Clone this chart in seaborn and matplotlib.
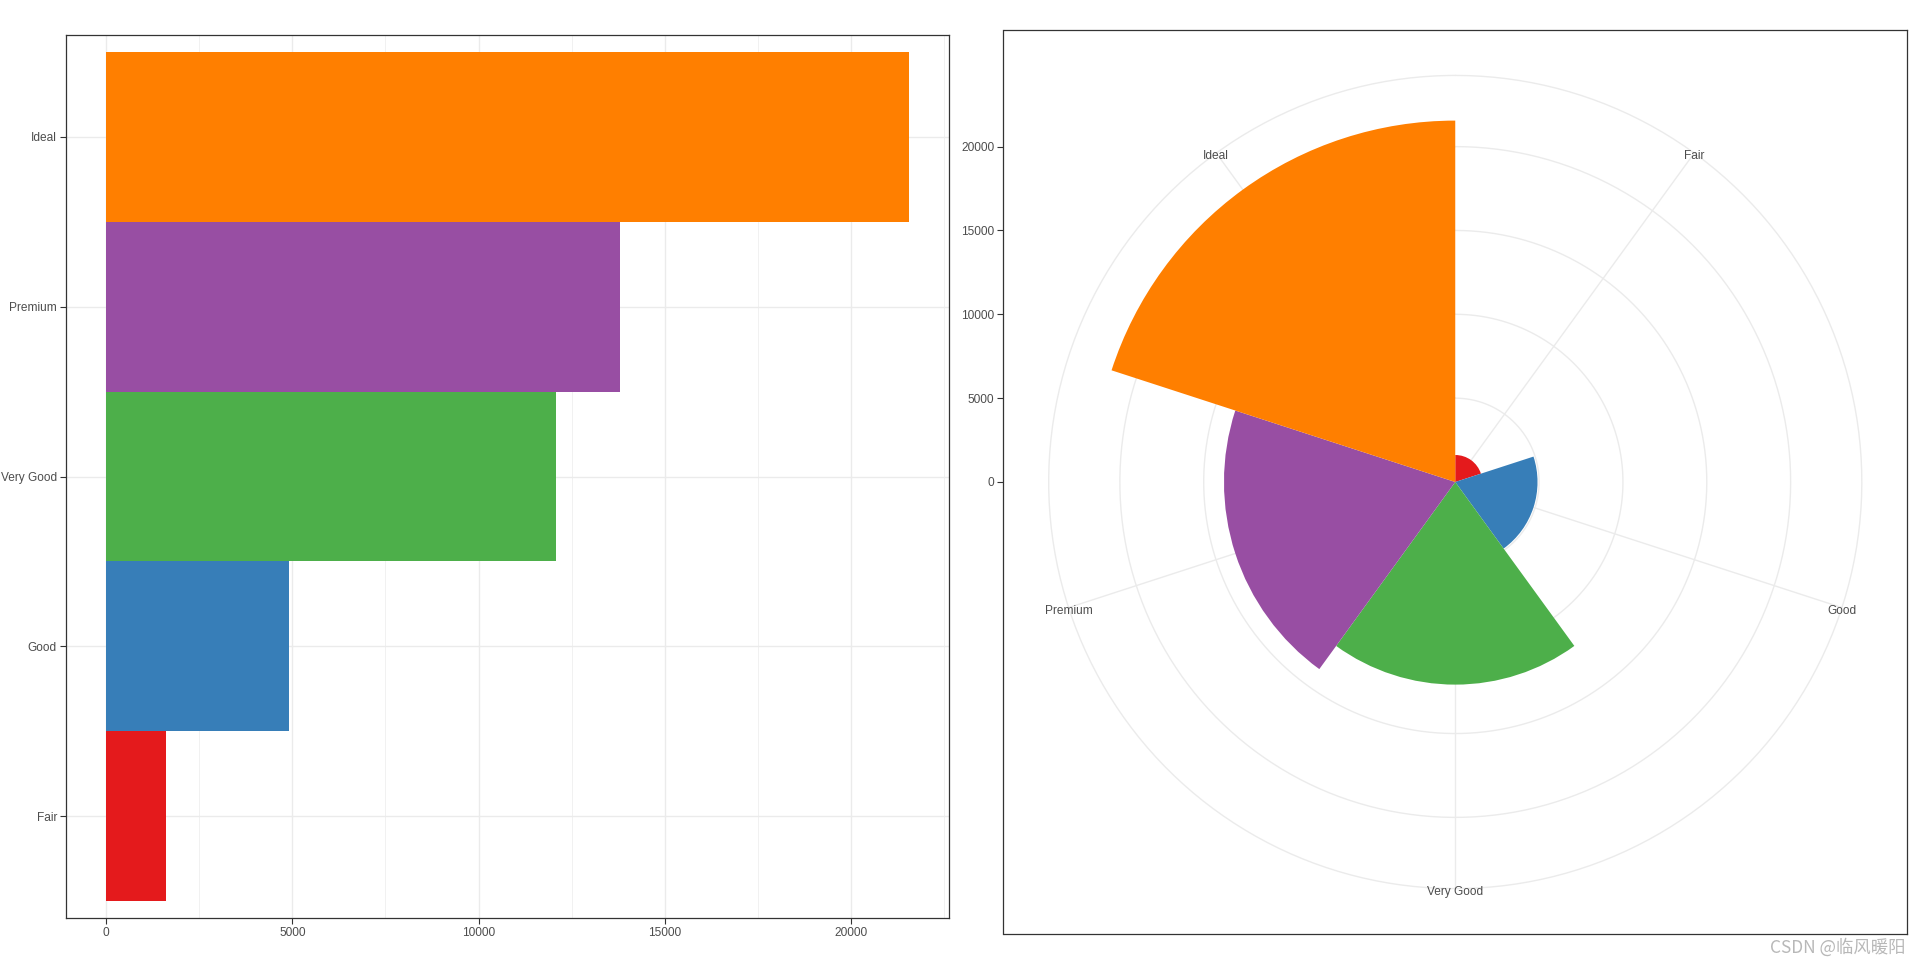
import numpy as np
import pandas as pd
import matplotlib
matplotlib.use("Agg")
import matplotlib.pyplot as plt
import matplotlib.transforms as mtransforms
import seaborn as sns

# ---- data ----
cuts = ["Fair", "Good", "Very Good", "Premium", "Ideal"]
counts = [1610, 4906, 12082, 13791, 21551]
colors = ["#E41A1C", "#377EB8", "#4DAF4A", "#984EA3", "#FF7F00"]
x_ticks = [0, 5000, 10000, 15000, 20000]
watermark = "CSDN @临风暖阳"

sns.set_theme(style="white")
plt.rcParams['font.family'] = ['Liberation Sans', 'DejaVu Sans']

W, H = 1912, 967
fig = plt.figure(figsize=(W / 100, H / 100), dpi=100)

GRID = "#EBEBEB"
BORDER = "#333333"
TXT = "#4D4D4D"
FS = 8.6

df = pd.DataFrame({"cut": cuts, "count": counts})
palette = dict(zip(cuts, colors))
order = cuts[::-1]
cmax = max(counts)

# ---------------- left: horizontal bars ----------------
ax1 = fig.add_axes([66 / W, 1 - 918 / H, 883 / W, 883 / H])
sns.barplot(data=df, y="cut", x="count", hue="cut", order=order, hue_order=cuts,
            palette=palette, width=1, dodge=False, legend=False, saturation=1,
            linewidth=0, ax=ax1, zorder=3)
ax1.set_xlim(-0.05 * cmax, 1.05 * cmax)
ax1.set_ylim(len(cuts) - 0.4, -0.6)
ax1.set_xticks(x_ticks)
ax1.set_xticklabels([str(v) for v in x_ticks])
minor = [t + 2500 for t in x_ticks]
ax1.set_xticks(minor, minor=True)
ax1.set_axisbelow(True)
ax1.grid(True, which="major", axis="both", color=GRID, linewidth=1.0, zorder=0)
ax1.grid(True, which="minor", axis="x", color=GRID, linewidth=0.5, zorder=0)
ax1.set_xlabel("")
ax1.set_ylabel("")
ax1.tick_params(which="major", direction="out", length=4, width=0.8, color=BORDER,
                labelcolor=TXT, labelsize=FS, pad=2.5, bottom=True, left=True)
ax1.tick_params(which="minor", length=0)
for s in ax1.spines.values():
    s.set_visible(True)
    s.set_color(BORDER)
    s.set_linewidth(0.9)

# ---------------- right: polar (coxcomb) ----------------
rect2 = [1003.5 / W, 1 - 933.75 / H, 903.5 / W, 903.5 / H]
R = cmax * 0.5 / 0.4          # panel half-width in data units
r45 = cmax * 0.45 / 0.4       # outer circle / label radius

ax2 = fig.add_axes(rect2)
ax2.set_xlim(-R, R)
ax2.set_ylim(-R, R)
ax2.set_xticks([])
ax2.set_yticks(x_ticks)
ax2.set_yticklabels([str(v) for v in x_ticks])
ax2.tick_params(direction="out", length=4, width=0.8, color=BORDER,
                labelcolor=TXT, labelsize=FS, pad=2.5, left=True)
ax2.grid(False)
for s in ax2.spines.values():
    s.set_visible(True)
    s.set_color(BORDER)
    s.set_linewidth(0.9)

axp = fig.add_axes(rect2, projection="polar")
axp.set_facecolor("none")
axp.set_theta_zero_location("N")
axp.set_theta_direction(-1)
axp.set_ylim(0, R)
axp.grid(False)
axp.spines["polar"].set_visible(False)
axp.set_xticks([])
axp.set_yticks([])

n = len(cuts)
step = 2 * np.pi / n
thetas = np.arange(n) * step + step / 2
tt = np.linspace(0, 2 * np.pi, 400)
for rr in x_ticks[1:] + [r45]:
    axp.plot(tt, np.full_like(tt, rr), color=GRID, linewidth=1.0, zorder=1)
for th in thetas:
    axp.plot([th, th], [0, r45], color=GRID, linewidth=1.0, zorder=1)

axp.bar(thetas, counts, width=step, color=colors, linewidth=0, zorder=3)

lab_tr = mtransforms.offset_copy(axp.transData, fig=fig, x=0, y=-2.2, units="points")
for th, lab in zip(thetas, cuts):
    axp.text(th, r45, lab, ha="center", va="center", fontsize=FS, color=TXT,
             zorder=4, transform=lab_tr)

# watermark
fig.text(1906 / W, 1 - 947 / H, watermark, ha="right", va="center", fontsize=12.5,
         color="#B8B8B8", family=["Noto Sans CJK SC", "DejaVu Sans"])

fig.savefig("out.png", dpi=100, facecolor="white")
